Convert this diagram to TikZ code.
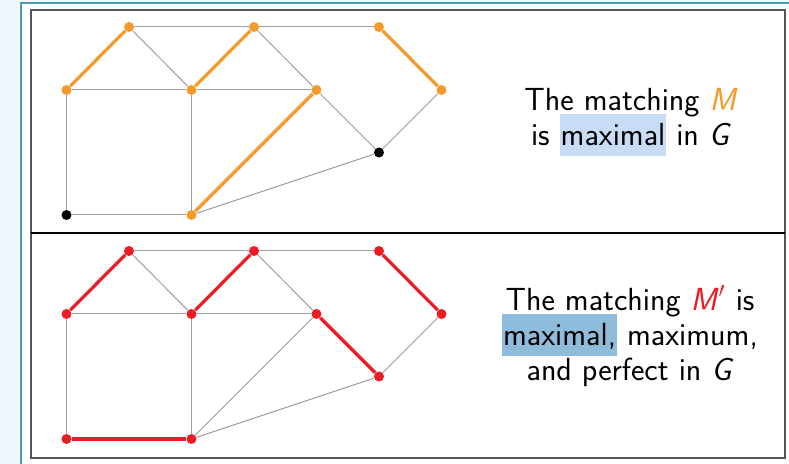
\documentclass[tikz,border=0pt]{standalone}
\usepackage{amsmath}
\usepackage{tikz}
\usetikzlibrary{positioning,calc}
\renewcommand{\familydefault}{\sfdefault}

\definecolor{matchorange}{HTML}{F39A2A}
\definecolor{perfred}{HTML}{EC1C24}
\definecolor{hllight}{HTML}{C8DCF6}
\definecolor{hldark}{HTML}{8FBCDB}
\definecolor{frameteal}{HTML}{4A9BB0}
\definecolor{paleblue}{HTML}{EEF7FB}
\definecolor{framegray}{HTML}{555555}

\newcommand{\hlword}[2]{{\setlength{\fboxsep}{0.5pt}\smash{\colorbox{#1}{\rule[-5pt]{0pt}{20pt}#2}}}}

\begin{document}
\begin{tikzpicture}[x=0.5pt,y=-0.5pt,
  vtx/.style={circle,fill=#1,inner sep=0pt,minimum size=5pt},
  edge/.style={gray!75,line width=0.5pt},
  medge/.style={#1,line width=1.6pt},
  caption/.style={align=center,font=\fontsize{16}{17.5}\selectfont}]
  \useasboundingbox (0,0) rectangle (789,464);
  \fill[paleblue] (0,0) rectangle (21,464);
  \fill[paleblue] (21,0) rectangle (789,3);
  \draw[frameteal,line width=0.8pt] (21,464) -- (21,3) -- (789,3);
  \draw[framegray,line width=0.9pt] (31,10) rectangle (785,458);
  \draw[black,line width=0.8pt] (31,233) -- (785,233);

  % top panel: matching M
  \foreach \n/\px/\py/\c in {A/66.5/90/matchorange,B/129/27/matchorange,
      C/191.5/90/matchorange,D/254/27/matchorange,E/316.5/90/matchorange,
      F/66.5/215/black,G/191.5/215/matchorange,H/379/152.5/black,
      I/379/27/matchorange,J/441.5/90/matchorange}
    \node[vtx=\c] (t\n) at (\px,\py) {};
  \foreach \u/\v in {A/C,C/E,B/D,D/I,A/F,C/G,F/G,B/C,D/E,E/H,G/H,H/J}
    \draw[edge] (t\u) -- (t\v);
  \foreach \u/\v in {A/B,C/D,E/G,I/J}
    \draw[medge=matchorange] (t\u) -- (t\v);
  \node[caption] (tcap) at (631,117)
    {The matching \textcolor{matchorange}{\textit{M}}\\
     is \hlword{hllight}{maximal} in \textit{G}};

  % bottom panel: matching M'
  \foreach \n/\px/\py in {A/66.5/90,B/129/27,C/191.5/90,D/254/27,E/316.5/90,
      F/66.5/215,G/191.5/215,H/379/152.5,I/379/27,J/441.5/90}
    \node[vtx=perfred] (b\n) at (\px,\py+224) {};
  \foreach \u/\v in {A/C,C/E,B/D,D/I,A/F,C/G,B/C,D/E,E/G,G/H,H/J}
    \draw[edge] (b\u) -- (b\v);
  \foreach \u/\v in {A/B,C/D,E/H,F/G,I/J}
    \draw[medge=perfred] (b\u) -- (b\v);
  \node[caption] (bcap) at (630,336)
    {The matching \textcolor{perfred}{\textit{M}$'$} is\\
     \hlword{hldark}{maximal,} maximum,\\
     and perfect in \textit{G}};
\end{tikzpicture}
\end{document}
